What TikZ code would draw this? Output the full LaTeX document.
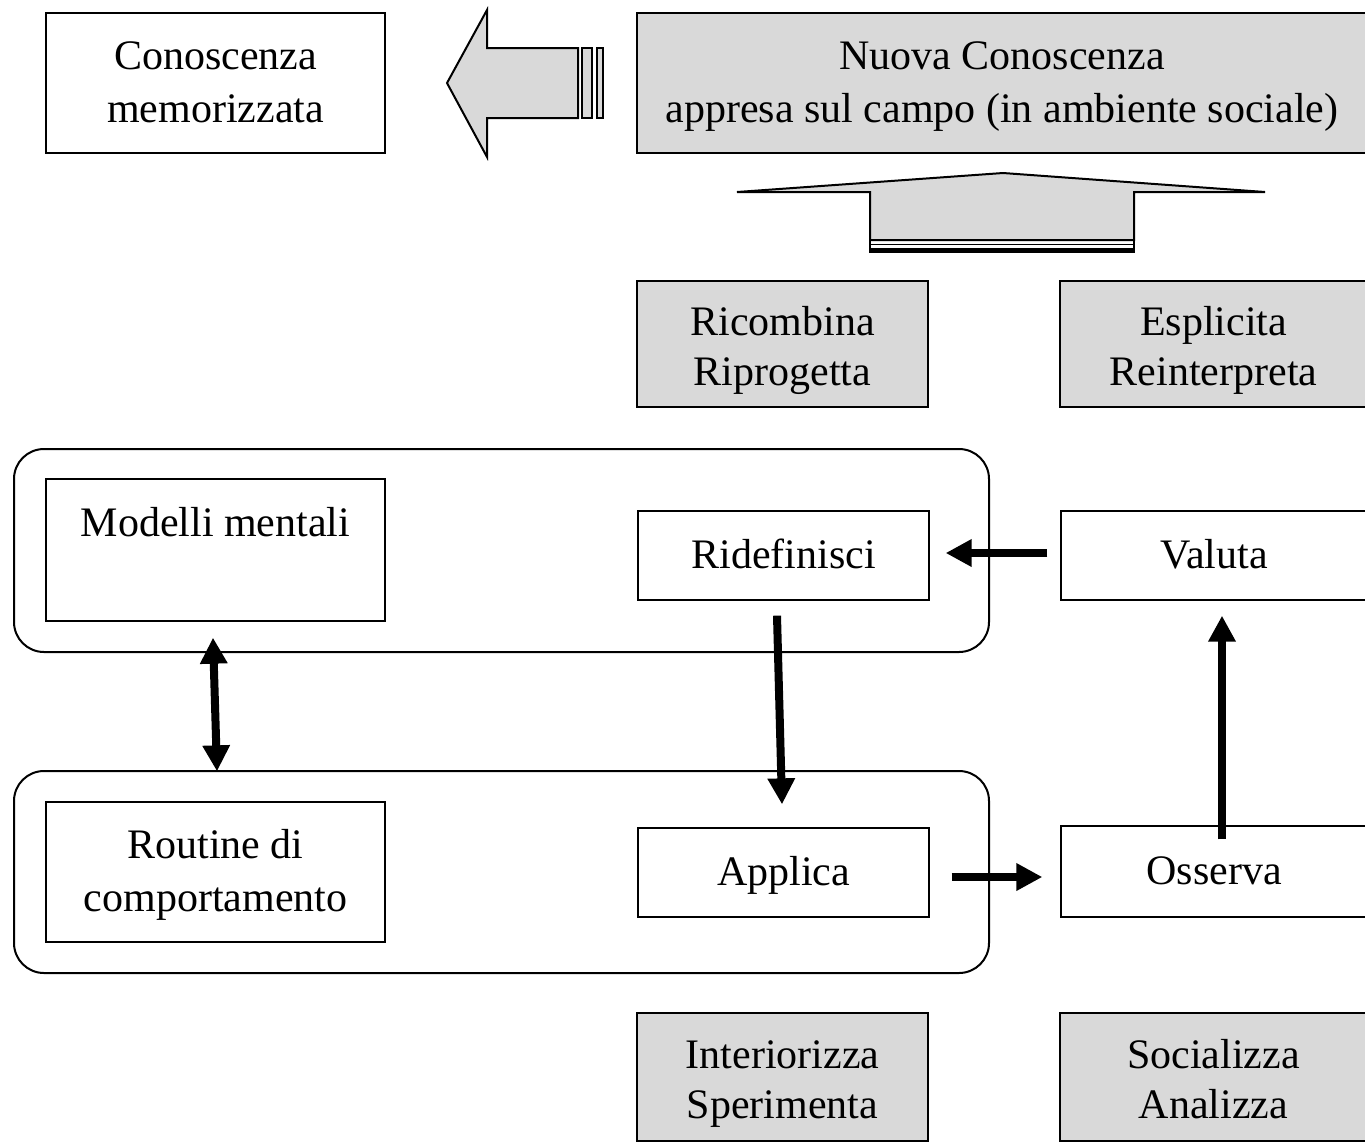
\documentclass[tikz,border=0pt]{standalone}
\usepackage{fontspec}
\setmainfont{Liberation Serif}
\usetikzlibrary{arrows.meta}
\definecolor{boxgray}{RGB}{217,217,217}
\tikzset{
  box/.style={draw, line width=1.3pt, inner sep=0pt, align=center,
    font=\fontsize{42}{53}\selectfont},
  gbox/.style={box, fill=boxgray, font=\fontsize{42}{50}\selectfont},
  cont/.style={draw, line width=2pt, rounded corners=30pt},
  arr/.style={line width=8pt, -{Triangle[width=26pt,length=26pt]}},
  darr/.style={line width=8pt, {Triangle[width=26pt,length=26pt]}-{Triangle[width=26pt,length=26pt]}},
  blockarrow/.style={draw, fill=boxgray, line width=2pt, line join=miter},
}
\begin{document}
\begin{tikzpicture}[x=1pt,y=-1pt]
\useasboundingbox (0,0) rectangle (1365,1141);
% containers
\draw[cont] (14,449) rectangle (989,652);
\draw[cont] (14,771) rectangle (989,973);
% boxes
\node[box, minimum width=339, minimum height=140, text height=89pt, text depth=11pt] (conosc) at (215.5,83) {Conoscenza\\memorizzata};
\node[gbox, font=\fontsize{42}{53}\selectfont, minimum width=730, minimum height=140, text height=89pt, text depth=11pt] (nuova) at (1002,83) {Nuova Conoscenza\\appresa sul campo (in ambiente sociale)};
\node[gbox, minimum width=291, minimum height=126, text height=91.5pt, text depth=8.5pt] (ricomb) at (782.5,344) {Ricombina\\Riprogetta};
\node[gbox, minimum width=307, minimum height=126, text height=91.5pt, text depth=8.5pt] (esplic) at (1213.5,344) {Esplicita\\Reinterpreta};
\node[box, minimum width=339, minimum height=142, text height=89pt, text depth=11pt] (modelli) at (215.5,550) {Modelli mentali\\\strut};
\node[box, minimum width=291, minimum height=89, text height=52.5pt, text depth=27.5pt] (ridef) at (783.5,555.5) {Ridefinisci};
\node[box, minimum width=306, minimum height=89, text height=52.5pt, text depth=27.5pt] (valuta) at (1214,555.5) {Valuta};
\node[box, minimum width=339, minimum height=140, text height=89.6pt, text depth=10.4pt] (routine) at (215.5,872) {Routine di\\comportamento};
\node[box, minimum width=291, minimum height=89, text height=52.5pt, text depth=27.5pt] (applica) at (783.5,872.5) {Applica};
\node[box, minimum width=306, minimum height=91, text height=52.5pt, text depth=27.5pt] (osserva) at (1214,871.5) {Osserva};
\node[gbox, minimum width=291, minimum height=128, text height=91pt, text depth=9pt] (interior) at (782.5,1077) {Interiorizza\\Sperimenta};
\node[gbox, minimum width=307, minimum height=128, text height=91pt, text depth=9pt] (social) at (1213.5,1077) {Socializza\\Analizza};
% connectors
\draw[arr] ([xshift=-13pt,yshift=2.5pt]valuta.west) -- ([xshift=16pt,yshift=2.5pt]ridef.east);
\draw[arr] ([xshift=-6.5pt,yshift=-15pt]ridef.south) -- ([xshift=-1.5pt,yshift=23pt]applica.north);
\draw[darr] ([xshift=-2.5pt,yshift=-16pt]modelli.south) -- ([xshift=1.5pt,yshift=30pt]routine.north);
\draw[arr] ([xshift=22pt,yshift=-4.5pt]applica.east) -- ([xshift=-18pt,yshift=-5.5pt]osserva.west);
\draw[arr] ([xshift=8pt,yshift=-14pt]osserva.north) -- ([xshift=8pt,yshift=-15pt]valuta.south);
% left block arrow
\draw[blockarrow] (447,83) -- (487,10) -- (487,48) -- (578,48) -- (578,118) -- (487,118) -- (487,157) -- cycle;
\draw[blockarrow] (582,48) rectangle (592,118);
\draw[blockarrow] (597,48) rectangle (603,118);
% up block arrow
\draw[blockarrow] (1003,173) -- (1265,192) -- (1134,192) -- (1134,240) -- (870,240) -- (870,192) -- (737,192) -- cycle;
\draw[line width=1.5pt] (870,244.5) -- (1134,244.5);
\fill[black] (870,247.5) rectangle (1134,253);
\draw[line width=2pt] (870,240) -- (870,253) (1134,240) -- (1134,253);
\end{tikzpicture}
\end{document}
